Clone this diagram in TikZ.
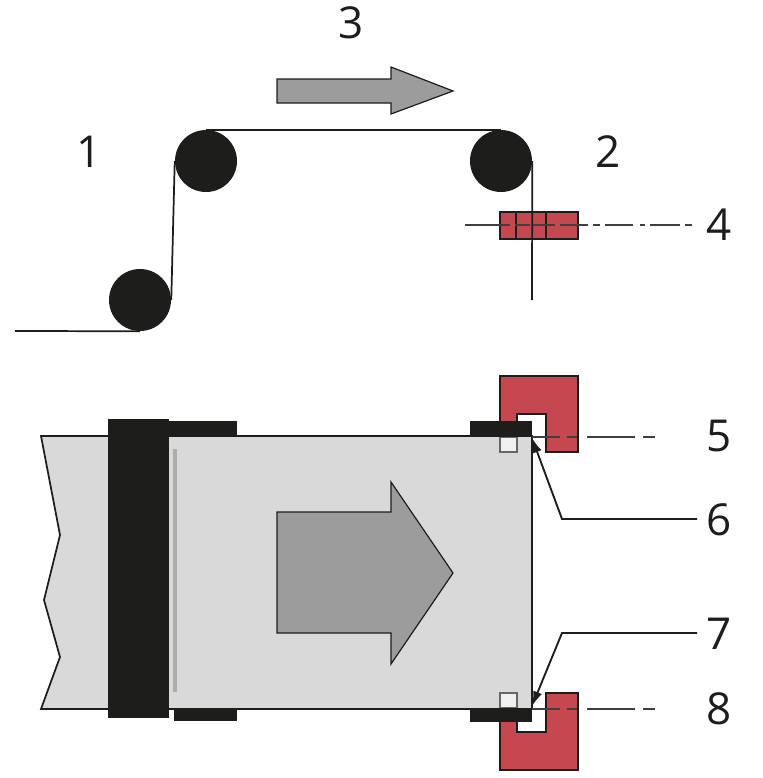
\documentclass[tikz,border=0pt]{standalone}
\usepackage{fontspec}
\setmainfont{Open Sans}
\usetikzlibrary{arrows.meta}
\definecolor{ink}{HTML}{1D1D1B}
\definecolor{redpart}{HTML}{C5474F}
\definecolor{sheet}{HTML}{D9D9D9}
\definecolor{arrowgrey}{HTML}{9C9C9C}
\tikzset{
  lab/.style={font=\fontsize{33}{33}\selectfont, text=ink, inner sep=0pt},
  roller/.style={circle, fill=ink, minimum size=46.5pt, inner sep=0pt},
  web/.style={draw=ink, line width=1.3pt},
  thin/.style={draw=ink, line width=1.1pt},
  redbody/.style={draw=ink, line width=1.3pt, fill=redpart},
  blackbar/.style={fill=ink},
  leader/.style={draw=ink, line width=1.4pt, -{Latex[length=11pt,width=7pt]}},
  bigarrow/.style={draw=ink, line width=0.9pt, fill=arrowgrey},
  window/.style={draw=black!60, line width=1pt, fill=black!6},
}
\begin{document}
\begin{tikzpicture}[x=0.75pt,y=-0.75pt]
\useasboundingbox (0,0) rectangle (763,778);
% labels
\node[lab] (l3) at (351,23) {3};
\node[lab] (l1) at (89,152) {1};
\node[lab] (l2) at (608,152) {2};
\node[lab] (l4) at (719,225) {4};
\node[lab] (l5) at (719,436) {5};
\node[lab] (l6) at (719,520) {6};
\node[lab] (l7) at (719,634) {7};
\node[lab] (l8) at (719,709) {8};
% top view arrow
\draw[bigarrow] (277,79) -- (391,79) -- (391,67) -- (453,91) -- (391,114) -- (391,103) -- (277,103) -- cycle;
% rollers
\node[roller] (r3) at (140,300) {};
\node[roller] (r1) at (206,161) {};
\node[roller] (r2) at (501,161) {};
% web
\coordinate (webstart) at (15,331);
\coordinate (webend) at (532,300);
\draw[web] (webstart) -- (r3.south);
\draw[web] (r3.east) -- (r1.west);
\draw[web] (r1.north) -- (r2.north);
% side sensor
\node[redbody, minimum width=58.5pt, minimum height=20.25pt, inner sep=0pt, outer sep=0pt, anchor=north west] (sens) at (500,212) {};
\draw[thin] (516,212) -- (516,239);
\draw[thin] (546,212) -- (546,239);
\draw[web] (r2.east) -- (webend);
\draw[ink!85, line width=1.5pt, dash pattern=on 33.75pt off 3.75pt on 11.25pt off 2.25pt on 16.5pt off 3.75pt on 21pt off 3.75pt on 5.25pt off 3.75pt on 21pt off 5.25pt on 3.75pt off 3.75pt on 22.5pt off 3.75pt on 5.25pt off 30pt]
  (465,225) -- (693,225);
% upper red C
\draw[redbody] (500,436) -- (500,376) -- (578,376) -- (578,452) -- (546,452) -- (546,414) -- (517,414) -- (517,436) -- cycle;
% lower red C
\draw[redbody] (500,709) -- (500,770) -- (578,770) -- (578,693) -- (546,693) -- (546,732) -- (517,732) -- (517,709) -- cycle;
% sheet
\draw[draw=ink, line width=1.3pt, fill=sheet] (41,436) -- (532,436) -- (532,709) -- (41,709) -- (60,657) -- (44,600) -- (60,535) -- cycle;
% small windows
\draw[window] (500,437) rectangle (517,452);
\draw[window] (500,693) rectangle (517,708);
% black bars
\fill[blackbar] (108,419) rectangle (169,718);
\fill[blackbar] (169,421) rectangle (237,436);
\fill[blackbar] (174,709) rectangle (237,721);
\fill[blackbar] (470,421) rectangle (532,437);
\fill[blackbar] (470,708) rectangle (532,722);
% inner line
\draw[draw=black!32, line width=2.8pt] (175,449) -- (175,692);
% big arrow
\draw[bigarrow] (277,512) -- (391,512) -- (391,482) -- (453,573) -- (391,664) -- (391,633) -- (277,633) -- cycle;
% centre lines
\draw[ink!85, line width=1.5pt, dash pattern=on 21pt off 5.25pt on 7.5pt off 7.5pt on 36pt off 6pt on 9pt off 30pt] (532,437) -- (655,437);
\draw[ink!85, line width=1.5pt, dash pattern=on 21pt off 5.25pt on 7.5pt off 7.5pt on 36pt off 6pt on 9pt off 30pt] (532,709) -- (655,709);
% leaders
\coordinate (t6) at (532,438);
\coordinate (t7) at (532,706);
\draw[leader] (l6.west) ++(-9,-1) -- (562,519) -- (t6);
\draw[leader] (l7.west) ++(-9,-1) -- (562,633) -- (t7);
\end{tikzpicture}
\end{document}
